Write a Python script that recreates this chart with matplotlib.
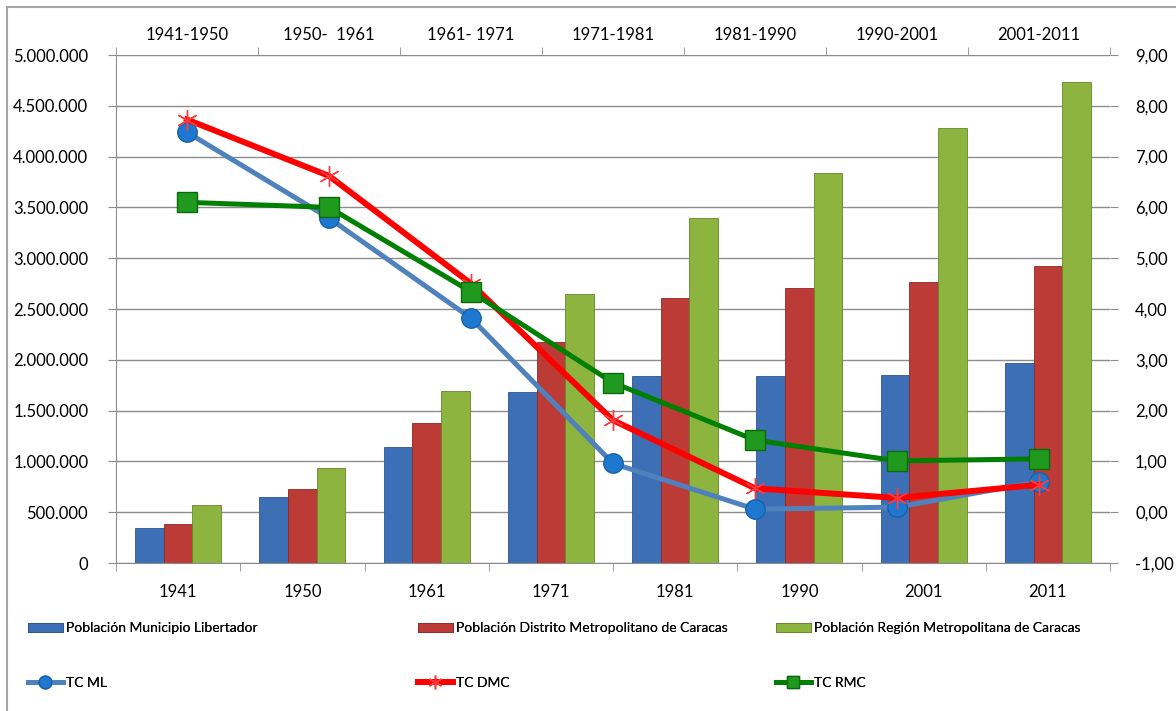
import matplotlib
matplotlib.use("Agg")
import matplotlib.pyplot as plt
from matplotlib.lines import Line2D
from matplotlib.ticker import FuncFormatter, FixedLocator, NullFormatter
import numpy as np

plt.rcParams['font.family'] = ['Lato', 'DejaVu Sans']

# census years and the bar series (population)
years = ["1941", "1950", "1961", "1971", "1981", "1990", "2001", "2011"]
pob_ml = [347000, 650000, 1139000, 1680000, 1838000, 1838000, 1847000, 1972000]
pob_dmc = [381000, 725000, 1375000, 2172000, 2605000, 2704000, 2769000, 2923000]
pob_rmc = [568000, 935000, 1693000, 2645000, 3393000, 3836000, 4279000, 4731000]

# intercensal periods and growth rates (right axis)
periods = ["1941-1950", "1950-  1961", "1961- 1971", "1971-1981",
           "1981-1990", "1990-2001", "2001-2011"]
tc_ml = [7.48, 5.79, 3.82, 0.96, 0.06, 0.10, 0.60]
tc_dmc = [7.73, 6.62, 4.50, 1.81, 0.47, 0.28, 0.54]
tc_rmc = [6.10, 6.00, 4.34, 2.55, 1.42, 1.01, 1.05]

bar_labels = ["Población Municipio Libertador",
              "Población Distrito Metropolitano de Caracas",
              "Población Región Metropolitana de Caracas"]
line_labels = ["TC ML", "TC DMC", "TC RMC"]

fig = plt.figure(figsize=(11.76, 7.11), dpi=100)
rect = [116 / 1176, 1 - 563 / 711, (1110 - 116) / 1176, (563 - 55) / 711]
ax = fig.add_axes(rect)

grid_c = "#8c8c8c"
x = np.arange(len(years)) + 0.5
w = 0.231
b1 = ax.bar(x - w, pob_ml, w, color="#3d6fb6", edgecolor="#2c5690", linewidth=0.6, zorder=2)
b2 = ax.bar(x, pob_dmc, w, color="#bd3b37", edgecolor="#8c2a27", linewidth=0.6, zorder=2)
b3 = ax.bar(x + w, pob_rmc, w, color="#8db43f", edgecolor="#67862c", linewidth=0.6, zorder=2)

ax.set_xlim(0, len(years))
ax.set_ylim(0, 5000000)
ax.set_yticks(np.arange(0, 5000001, 500000))
ax.yaxis.set_major_formatter(FuncFormatter(lambda v, p: f"{int(v):,}".replace(",", ".")))
# labels on category centres, tick marks on category boundaries
ax.set_xticks(x)
ax.set_xticklabels(years)
ax.xaxis.set_minor_locator(FixedLocator(np.arange(0, len(years) + 1)))
ax.xaxis.set_minor_formatter(NullFormatter())
ax.tick_params(axis="x", which="major", length=0, pad=15, labelsize=12)
ax.tick_params(axis="x", which="minor", length=6, color=grid_c, direction="out")
ax.tick_params(axis="y", length=6, color=grid_c, pad=14, labelsize=12)
ax.grid(axis="y", color=grid_c, linewidth=1, zorder=0)
ax.set_axisbelow(True)
for s in ["top", "right"]:
    ax.spines[s].set_visible(False)
for s in ["left", "bottom"]:
    ax.spines[s].set_color(grid_c)

# second axes for the growth rates, with period axis on top
ax2 = fig.add_axes(rect, frameon=False)
ax2.patch.set_visible(False)
xp = np.arange(len(periods)) + 0.5
l1, = ax2.plot(xp, tc_ml, color="#4f81bd", linewidth=3.6, marker="o", markersize=14,
               markerfacecolor="#1f78d0", markeredgecolor="#1761aa", zorder=3)
l2, = ax2.plot(xp, tc_dmc, color="#ff0000", linewidth=4.3, marker=(6, 2, 0), markersize=15,
               markeredgecolor="#ff3b3b", markeredgewidth=1.0, zorder=4)
l3, = ax2.plot(xp, tc_rmc, color="#008000", linewidth=3.6, marker="s", markersize=14,
               markerfacecolor="#1f9a1f", markeredgecolor="#0c6a0c", zorder=5)
ax2.set_xlim(0, len(periods))
ax2.set_ylim(-1, 9)
ax2.set_yticks(np.arange(-1, 10, 1))
ax2.yaxis.set_major_formatter(FuncFormatter(lambda v, p: f"{v:.2f}".replace(".", ",")))
ax2.xaxis.tick_top()
ax2.yaxis.tick_right()
ax2.set_xticks(xp)
ax2.set_xticklabels(periods)
ax2.xaxis.set_minor_locator(FixedLocator(np.arange(0, len(periods) + 1)))
ax2.xaxis.set_minor_formatter(NullFormatter())
ax2.tick_params(axis="x", which="major", top=True, bottom=False, length=0, pad=9, labelsize=12)
ax2.tick_params(axis="x", which="minor", top=True, bottom=False, length=6, color=grid_c)
ax2.tick_params(axis="y", right=True, left=False, length=6, color=grid_c, pad=12, labelsize=12)
ax2.spines["right"].set_visible(True)
ax2.spines["right"].set_color(grid_c)
ax2.spines["top"].set_visible(True)
ax2.spines["top"].set_color(grid_c)

# outer chart border (left and top edges visible in the picture)
fig.add_artist(Line2D([7 / 1176, 7 / 1176], [0, 1 - 7 / 711], color="#a6a6a6", linewidth=1.5))
fig.add_artist(Line2D([7 / 1176, 1], [1 - 7 / 711, 1 - 7 / 711], color="#a6a6a6", linewidth=1.5))

# legend in three columns, two rows
leg_kw = dict(loc="upper left", frameon=False, fontsize=10, borderpad=0, borderaxespad=0,
              handlelength=2.5, handleheight=0.6, handletextpad=0.25, labelspacing=3.1,
              markerscale=0.65)
cols = [(28, b1, l1, 0), (418, b2, l2, 1), (776, b3, l3, 2)]
for xpix, bar, line, i in cols:
    lg = fig.legend([bar, line], [bar_labels[i], line_labels[i]],
                    bbox_to_anchor=(xpix / 1176, 1 - 622 / 711), **leg_kw)
    fig.add_artist(lg)

fig.savefig("out.png", dpi=100)
